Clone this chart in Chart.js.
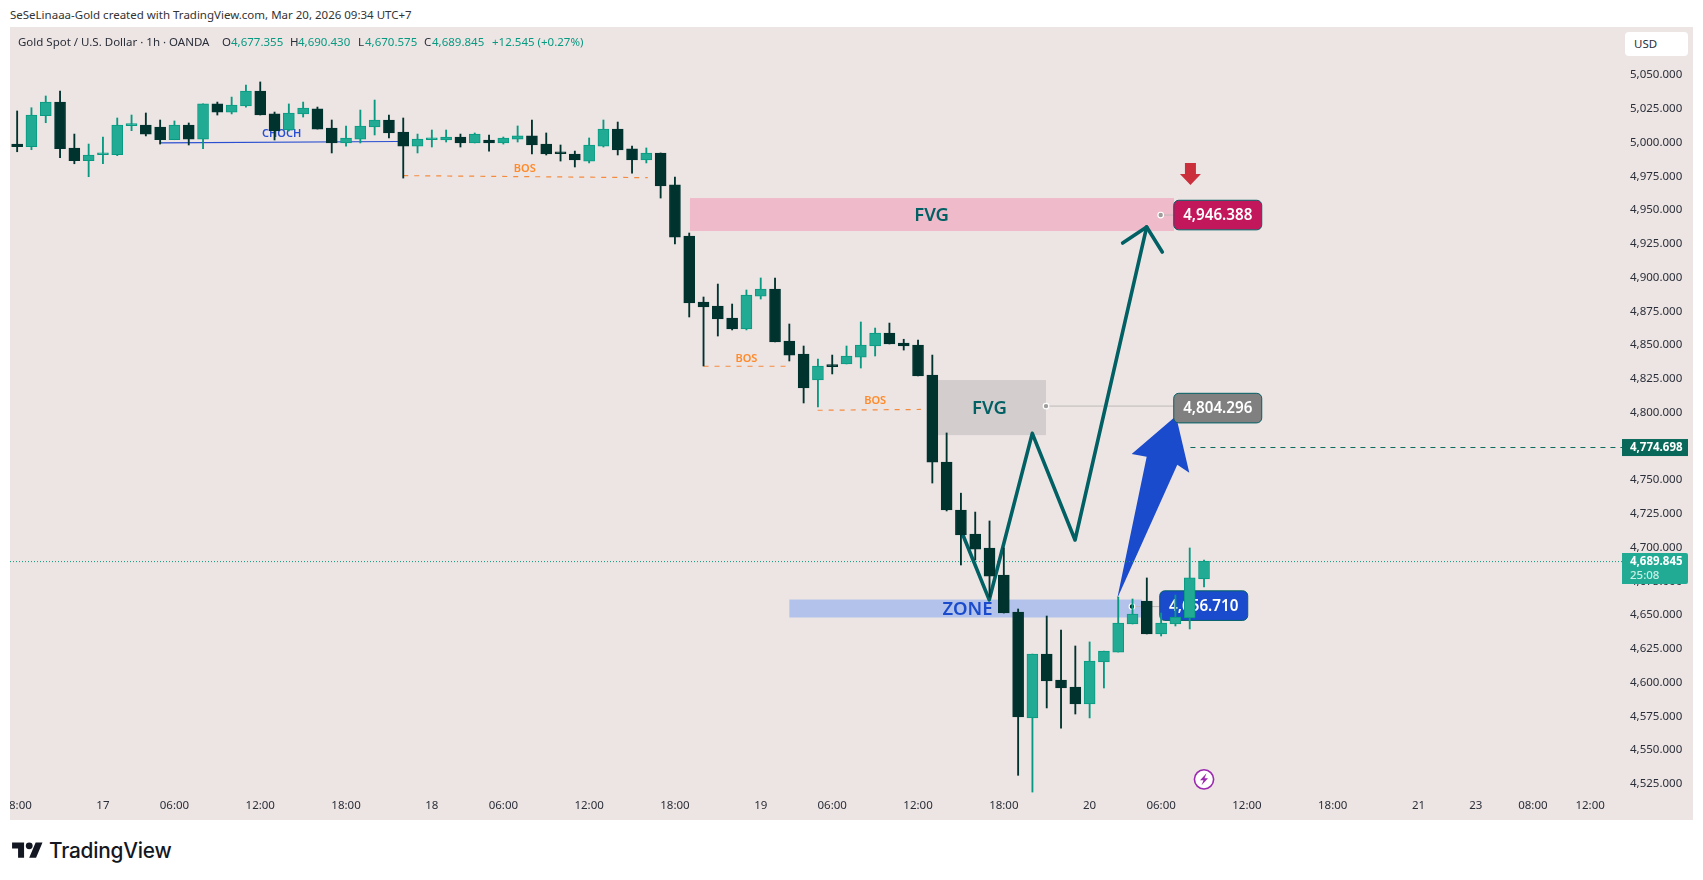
<!DOCTYPE html>
<html>
<head>
<meta charset="utf-8">
<title>Gold Spot 1h</title>
<script src="https://cdn.jsdelivr.net/npm/chart.js@4"></script>
<style>
  html, body { margin: 0; padding: 0; background: #fff; width: 1703px; height: 880px; overflow: hidden; }
  body { font-family: "Noto Sans", sans-serif; position: relative; }
  #panel { position: absolute; left: 10px; top: 27px; width: 1683px; height: 793px; background: #ede5e4; }
  canvas { display: block; }
  .t { position: absolute; white-space: nowrap; line-height: 16px; font-size: 11.5px; color: #2a2e39; }
  .g { color: #089981; }
  #usd { position: absolute; left: 1625px; top: 32px; width: 63px; height: 24px; background: #fff; border-radius: 4px; }
  #brand { position: absolute; left: 49px; top: 838px; font: 500 20.8px Inter, sans-serif; color: #131722; letter-spacing: -0.2px; }
</style>
</head>
<body>
<div class="t" style="left:10px;top:7px;color:#333">SeSeLinaaa-Gold created with TradingView.com, Mar 20, 2026 09:34 UTC+7</div>
<div id="panel"><canvas id="chart" width="1683" height="793"></canvas></div>
<div id="usd"></div>
<div class="t" style="left:1634px;top:36px">USD</div>
<div class="t" style="left:18px;top:34px">Gold Spot / U.S. Dollar · 1h · OANDA</div>
<div class="t" style="left:222px;top:34px">O</div><div class="t g" style="left:231px;top:34px">4,677.355</div>
<div class="t" style="left:290px;top:34px">H</div><div class="t g" style="left:298px;top:34px">4,690.430</div>
<div class="t" style="left:358px;top:34px">L</div><div class="t g" style="left:365px;top:34px">4,670.575</div>
<div class="t" style="left:424px;top:34px">C</div><div class="t g" style="left:432px;top:34px">4,689.845</div>
<div class="t g" style="left:492px;top:34px">+12.545 (+0.27%)</div>
<svg style="position:absolute;left:12px;top:839px" width="31" height="24" viewBox="0 0 36 28"><path fill="#131722" d="M14 22H7V11H0V4h14v18zM28 22h-8l7.5-18h8L28 22z"/><circle fill="#131722" cx="20" cy="8" r="4"/></svg>
<div id="brand">TradingView</div>
<script>
// candles (one per hour, skipped hours not shown)
const opens = [4997.6,4995.6,5018.6,5028.7,4994.7,4985.3,4989.7,4989.7,5011.2,5011.7,5010.2,5000.8,5011.7,5001.3,5027.3,5021.3,5025.8,5036.9,5019.9,5008.0,5019.9,5023.6,5009.5,4998.4,5001.3,5010.2,5015.4,5006.5,4996.1,5000.8,5000.6,5002.8,4998.4,5000.6,4998.4,5001.3,5003.6,4997.6,4991.0,4990.2,4985.0,4996.1,5008.7,4994.0,4985.8,4991.0,4967.3,4929.5,4880.6,4877.6,4868.7,4860.6,4885.0,4890.2,4851.7,4842.0,4822.8,4833.2,4834.7,4839.8,4848.0,4857.6,4850.2,4848.7,4826.5,4762.0,4726.5,4708.7,4698.4,4678.4,4651.0,4572.5,4619.8,4600.6,4595.4,4582.9,4614.0,4621.3,4642.1,4659.1,4634.7,4642.1,4646.6,4675.5];
const highs = [5022.1,5024.5,5033.2,5036.9,5005.0,4997.6,5002.8,5016.9,5019.1,5020.6,5015.4,5014.7,5013.2,5027.3,5028.7,5032.4,5041.3,5043.6,5021.3,5027.3,5028.7,5025.0,5015.4,5011.0,5022.8,5030.2,5019.1,5016.9,5005.0,5008.0,5008.0,5005.0,5005.8,5004.3,5002.8,5011.0,5015.4,5005.8,4996.9,4992.4,5002.1,5015.4,5013.9,4996.1,4994.7,4991.0,4973.2,4931.7,4884.3,4893.9,4879.1,4889.5,4898.4,4898.4,4864.3,4848.0,4838.4,4841.3,4848.0,4865.8,4861.3,4865.0,4853.0,4852.3,4841.3,4783.6,4739.0,4725.0,4718.4,4698.4,4653.2,4619.8,4648.0,4637.6,4625.8,4628.8,4622.0,4662.0,4660.6,4676.2,4650.2,4663.5,4698.4,4689.5];
const lows = [4991.9,4993.4,5013.4,4987.5,4983.0,4973.4,4983.0,4989.0,5007.5,5003.6,4997.6,5000.8,4996.9,4994.1,5019.1,5019.9,5025.0,5019.1,5000.6,5007.3,5017.6,5008.7,4991.0,4996.1,4998.4,5004.3,5002.1,4972.4,4991.0,4995.4,4999.1,4995.4,4998.4,4992.4,4997.6,4999.1,4990.2,4989.5,4985.0,4980.6,4983.6,4995.4,4989.5,4976.1,4983.6,4957.6,4923.6,4869.5,4833.2,4855.4,4859.9,4859.9,4882.8,4851.0,4836.9,4805.8,4802.8,4827.3,4834.7,4831.7,4840.6,4849.5,4845.0,4825.8,4746.5,4725.8,4685.8,4689.5,4662.0,4650.2,4530.0,4517.6,4579.9,4565.0,4575.4,4572.5,4594.7,4621.3,4642.1,4634.7,4633.2,4640.6,4638.4,4669.5];
const closes = [4995.6,5019.1,5028.7,4994.1,4985.3,4989.5,4990.2,5011.7,5011.7,5005.0,5000.8,5011.7,5001.3,5027.3,5021.3,5026.5,5036.9,5019.1,5007.3,5020.6,5024.3,5008.7,4998.4,5002.1,5011.0,5015.4,5005.8,4996.1,5001.3,5001.3,5002.8,4998.4,5005.0,4998.4,5002.1,5003.6,4996.9,4990.2,4990.4,4985.8,4996.9,5008.7,4993.2,4985.8,4991.0,4966.5,4928.7,4879.9,4876.9,4868.0,4860.6,4885.8,4890.2,4851.0,4841.3,4816.9,4833.2,4832.7,4840.6,4848.7,4857.6,4849.5,4848.0,4825.8,4762.0,4726.5,4708.0,4697.6,4677.6,4650.2,4573.2,4619.8,4599.9,4594.7,4582.9,4614.7,4622.0,4642.8,4649.5,4634.7,4642.8,4647.3,4676.2,4688.7];

// axis ticks
const tickSlots = [0,6,11,17,23,29,34,40,46,52,57,63,69,75,80,86,92,98,102,106,110];
const tickLabels = ["18:00","17","06:00","12:00","18:00","18","06:00","12:00","18:00","19","06:00","12:00","18:00","20","06:00","12:00","18:00","21","23","08:00","12:00"];
const priceTicks = [4525,4550,4575,4600,4625,4650,4675,4700,4725,4750,4775,4800,4825,4850,4875,4900,4925,4950,4975,5000,5025,5050];
const labelNudge = 1.3; // Noto sits high on its middle baseline, drop the price labels a little

// drawings: zones are [slot from, slot to, price top, price bottom]
const pinkFvg = [47.05, 80.9, 4957.6, 4933.2];
const greyFvg = [64.4, 71.95, 4822.8, 4782.0];
const blueZone = [54.0, 78.66, 4660.2, 4646.9];
// paths are lists of [slot, price]
const zigzag = [[66.14,4708],[67.98,4660],[70.99,4783.3],[73.98,4704.3],[78.99,4936.2]];
const zigzagHead = [[77.31,4924.3],[78.99,4936.2],[80.08,4917.6]];
const blueArrow = [[76.93,4661],[78.99,4766],[77.94,4768],[81.04,4796.1],[81.97,4754.1],[81.13,4760],[76.93,4661]];
const chochLine = [[10.0,4998.4],[26.6,4999.5]];
const bosLines = [[[27,4974.2],[44.1,4972.7]],[[48,4833],[53.8,4833]],[[55.98,4800.4],[63.2,4801]]];
const lastPriceLine = [[-0.5,4688.3],[112.23,4688.3]];
const alertLine = [[82.05,4772.8],[112.23,4772.8]];
// pills: [slot, price, text], with the dot each one is tied to
const pillSlots = [83.96, 83.96, 82.98];
const pillPrices = [4945.0, 4802.0, 4655.7];
const pillTexts = ["4,946.388", "4,804.296", "4,656.710"];
const pillColors = ["#c2185b", "#808080", "#1a4bcc"];
const dotSlots = [79.97, 71.95, 77.96];
const dotPrices = [4945.0, 4803.5, 4655.0];
const boxLabels = [["FVG",63.95,4944.3],["FVG",68.0,4801.8],["ZONE",66.46,4652.5]];
const smallLabels = [["CHOCH",18.5,5005.5,"#2a4fd0"],["BOS",35.5,4979.5,"#ff8a2a"],["BOS",51,4838.5,"#ff8a2a"],["BOS",60,4807.5,"#ff8a2a"]];
const upColor = "#21ab94", upEdge = "#089981", downColor = "#00332e";
const tealLine = "#006064";

const slots = opens.map((_, i) => i);
const isUp = i => closes[i] >= opens[i];
const wickColors = slots.map(i => isUp(i) ? upEdge : downColor);
const bodyColors = slots.map(i => isUp(i) ? upColor : downColor);
const edgeColors = slots.map(i => isUp(i) ? upEdge : downColor);
const pts = arr => arr.map(p => ({ x: p[0], y: p[1] }));
const lineSet = (path, color, width, dash) => ({
  type: "line", data: pts(path), borderColor: color, borderWidth: width, borderDash: dash || [],
  pointRadius: 0, order: 2, borderCapStyle: dash ? "butt" : "round", borderJoinStyle: "round", tension: 0
});

const drawings = {
  id: "drawings",
  beforeDatasetsDraw(chart) {
    const { ctx, scales: { x, y } } = chart;
    const px = s => x.getPixelForValue(s), py = p => y.getPixelForValue(p);
    ctx.save();
    const box = (z, color) => { ctx.fillStyle = color; ctx.fillRect(px(z[0]), py(z[2]), px(z[1]) - px(z[0]), py(z[3]) - py(z[2])); };
    box(pinkFvg, "#efbbcb");
    box(greyFvg, "#d3cdcd");
    box(blueZone, "#b3c2ea");

    // arrow
    ctx.fillStyle = "#1a4bcc";
    ctx.beginPath();
    blueArrow.forEach((p, i) => i ? ctx.lineTo(px(p[0]), py(p[1])) : ctx.moveTo(px(p[0]), py(p[1])));
    ctx.closePath();
    ctx.fill();

    // box titles
    ctx.textAlign = "center";
    ctx.textBaseline = "middle";
    boxLabels.forEach(l => {
      ctx.font = "600 18.5px 'Noto Sans'";
      ctx.fillStyle = l[0] === "ZONE" ? "#1a4bcc" : tealLine;
      ctx.fillText(l[0], px(l[1]), py(l[2]));
    });
    ctx.font = "600 11px 'Noto Sans'";
    smallLabels.forEach(l => { ctx.fillStyle = l[3]; ctx.fillText(l[0], px(l[1]), py(l[2])); });

    // pills and their leaders
    pillSlots.forEach((s, i) => {
      const cx = px(s), cy = py(pillPrices[i]), dx = px(dotSlots[i]), dy = py(dotPrices[i]);
      ctx.strokeStyle = "#bdb8b8";
      ctx.lineWidth = 1;
      ctx.beginPath(); ctx.moveTo(dx, dy); ctx.lineTo(cx, dy); ctx.stroke();
      ctx.fillStyle = pillColors[i];
      ctx.strokeStyle = tealLine;
      ctx.beginPath(); ctx.roundRect(cx - 44, cy - 14.8, 88, 29.6, 5); ctx.fill(); ctx.stroke();
      ctx.fillStyle = "#fff";
      ctx.font = "600 15.2px 'Noto Sans'";
      ctx.fillText(pillTexts[i], cx, cy + 1);
      ctx.fillStyle = i === 2 ? downColor : "#a09c9c";
      ctx.strokeStyle = "#fff";
      ctx.lineWidth = 1.2;
      ctx.beginPath(); ctx.arc(dx, dy, 2.8, 0, Math.PI * 2); ctx.fill(); ctx.stroke();
    });

    // red arrow above the pink pill
    const rx = px(82.05), ry = py(4967.3);
    ctx.fillStyle = "#cc2f3c";
    ctx.beginPath();
    [[0,0],[-10.5,-11],[-5.5,-11],[-5.5,-22],[5.5,-22],[5.5,-11],[10.5,-11]].forEach((o, i) => i ? ctx.lineTo(rx + o[0], ry + o[1]) : ctx.moveTo(rx + o[0], ry + o[1]));
    ctx.closePath();
    ctx.fill();

    // bolt marker under the last candle
    const mx = px(83), my = py(4527);
    ctx.fillStyle = "#fff";
    ctx.strokeStyle = "#9c27b0";
    ctx.lineWidth = 1.6;
    ctx.beginPath(); ctx.arc(mx, my, 9.6, 0, Math.PI * 2); ctx.fill(); ctx.stroke();
    ctx.fillStyle = "#9c27b0";
    ctx.beginPath();
    [[2.5,-6],[-4,1],[-0.5,1],[-2.5,6],[4,-1],[0.5,-1]].forEach((o, i) => i ? ctx.lineTo(mx + o[0], my + o[1]) : ctx.moveTo(mx + o[0], my + o[1]));
    ctx.closePath();
    ctx.fill();
    ctx.restore();
  },
  afterDraw(chart) {
    const { ctx, scales: { y } } = chart;
    ctx.save();
    // price tags sit on top of the axis labels
    const tx = 1612, tw = 66;
    ctx.textAlign = "left";
    ctx.textBaseline = "middle";
    let ty = y.getPixelForValue(alertLine[0][1]);
    ctx.fillStyle = "#08695a";
    ctx.fillRect(tx, ty - 8.5, tw, 17);
    ctx.fillStyle = "#fff";
    ctx.font = "700 11.5px 'Noto Sans'";
    ctx.fillText("4,774.698", tx + 8, ty + 0.5);
    ty = y.getPixelForValue(lastPriceLine[0][1]);
    ctx.fillStyle = upColor;
    ctx.beginPath(); ctx.roundRect(tx, ty - 8.5, tw, 31, [0, 2, 2, 0]); ctx.fill();
    ctx.fillStyle = "#fff";
    ctx.fillText("4,689.845", tx + 8, ty + 0.5);
    ctx.fillStyle = "#c8f0e6";
    ctx.font = "500 11.5px 'Noto Sans'";
    ctx.fillText("25:08", tx + 8, ty + 14);
    ctx.restore();
  }
};

new Chart(document.getElementById("chart"), {
  type: "bar",
  data: {
    datasets: [
      { data: slots.map(i => ({ x: i, y: [opens[i], closes[i]] })), backgroundColor: bodyColors, borderColor: edgeColors,
        borderWidth: 1, borderSkipped: false, barThickness: 11, minBarLength: 2, grouped: false, order: 0 },
      { data: slots.map(i => ({ x: i, y: [lows[i], highs[i]] })), backgroundColor: wickColors,
        borderWidth: 0, barThickness: 1.2, grouped: false, order: 1 },
      lineSet(zigzag, tealLine, 3.6),
      lineSet(zigzagHead, tealLine, 3.6),
      lineSet(chochLine, "#2a4fd0", 1.2),
      lineSet(bosLines[0], "#f58a3c", 1.2, [5, 6]),
      lineSet(bosLines[1], "#f58a3c", 1.2, [5, 6]),
      lineSet(bosLines[2], "#f58a3c", 1.2, [5, 6]),
      lineSet(lastPriceLine, upEdge, 1, [1, 2]),
      lineSet(alertLine, "#08695a", 1, [5, 5])
    ]
  },
  options: {
    responsive: false,
    animation: false,
    devicePixelRatio: 1,
    layout: { padding: 0 },
    plugins: { legend: { display: false }, tooltip: { enabled: false } },
    scales: {
      x: {
        type: "linear", offset: false, min: -0.5, max: 112.23,
        grid: { display: false, drawTicks: false }, border: { display: false },
        afterBuildTicks: s => { s.ticks = tickSlots.map(value => ({ value })); },
        afterFit: s => { s.height = 27; s.paddingLeft = 0; s.paddingRight = 0; },
        ticks: { autoSkip: false, maxRotation: 0, padding: 6, color: "#2a2e39", font: { family: "Noto Sans", size: 11.5 },
          callback: v => tickLabels[tickSlots.indexOf(v)] }
      },
      y: {
        position: "right", min: 4516.9, max: 5084.3,
        grid: { display: false, drawTicks: false }, border: { display: false },
        afterBuildTicks: s => { s.ticks = priceTicks.map(v => ({ value: v - labelNudge })); },
        afterFit: s => { s.width = 71; s.paddingTop = 0; s.paddingBottom = 0; },
        ticks: { autoSkip: false, padding: 8, color: "#2a2e39", font: { family: "Noto Sans", size: 11.5 },
          callback: v => (v + labelNudge).toLocaleString("en-US", { minimumFractionDigits: 3, maximumFractionDigits: 3 }) }
      }
    }
  },
  plugins: [drawings]
});
</script>
</body>
</html>
